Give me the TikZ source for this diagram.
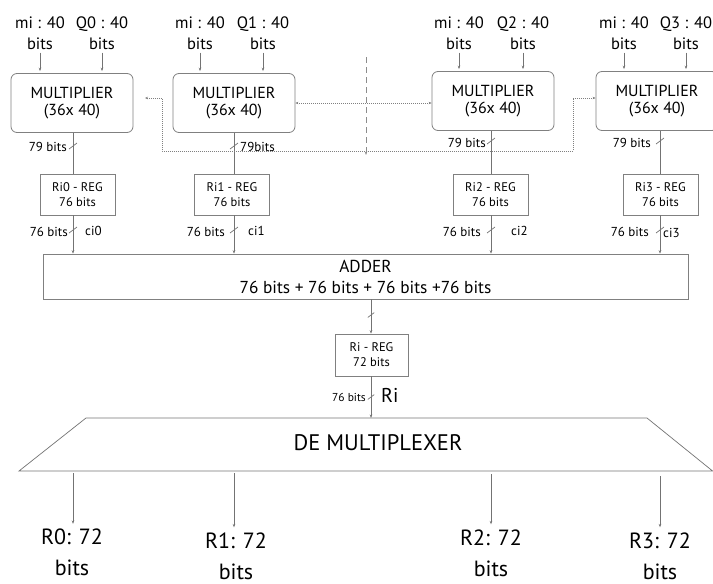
\documentclass[tikz,border=0pt]{standalone}
\usepackage{fontspec}
\setmainfont{PT Sans}
\usetikzlibrary{arrows.meta,calc}
\begin{document}
\begin{tikzpicture}[x=1pt,y=-1pt,
 line/.style={draw=black!55, line width=0.7pt},
 arr/.style={line, -{Stealth[length=3.5pt,width=2.6pt]}},
 mul/.style={draw=black!50, line width=0.8pt, rounded corners=6pt, minimum width=122pt, minimum height=59pt, align=center, font=\fontsize{16}{17}\selectfont, inner sep=0pt},
 reg/.style={draw=black!50, line width=0.8pt, minimum width=75pt, minimum height=41pt, align=center, font=\fontsize{12.5}{15}\selectfont, inner sep=0pt},
 inlab/.style={align=center, font=\fontsize{16.5}{21}\selectfont, inner sep=0pt},
 small/.style={font=\fontsize{13}{15}\selectfont, inner sep=0pt},
 outlab/.style={align=center, font=\fontsize{22}{31}\selectfont, inner sep=0pt},
 dots/.style={draw=black!50, line width=0.7pt, dash pattern=on 0.8pt off 1.2pt},
 sl/.pic={\draw[line] (-4,3) -- (4,-3);},
]
\clip (0,0) rectangle (713,584);
% column x positions
\coordinate (c0) at (73,0);
\coordinate (c1) at (234,0);
\coordinate (c2) at (491,0);
\coordinate (c3) at (660,0);
\coordinate (cr) at (371,0);
% multipliers
\node[mul] (m0) at (72,103) {MULTIPLIER\\(36x 40)};
\node[mul] (m1) at (234,103) {MULTIPLIER\\(36x 40)};
\node[mul] (m2) at (493,101) {MULTIPLIER\\(36x 40)};
\node[mul] (m3) at (657,101) {MULTIPLIER\\(36x 40)};
% input labels
\node[inlab] (a0) at (40,33) {mi : 40\\bits};
\node[inlab] (b0) at (102,33) {Q0 : 40\\bits};
\node[inlab] (a1) at (200,33) {mi : 40\\bits};
\node[inlab] (b1) at (263,33) {Q1 : 40\\bits};
\node[inlab] (a2) at (459,33) {mi : 40\\bits};
\node[inlab] (b2) at (523,33) {Q2 : 40\\bits};
\node[inlab] (a3) at (624,33) {mi : 40\\bits};
\node[inlab] (b3) at (686,33) {Q3 : 40\\bits};
\foreach \l/\m in {a0/m0,b0/m0,a1/m1,b1/m1,a2/m2,b2/m2,a3/m3,b3/m3}
  \draw[arr, shorten <=3pt, shorten >=2pt] (\l.south) -- (\l.south |- \m.north);
% registers
\node[reg] (r0) at (77.5,194.5) {Ri0 - REG\\76 bits};
\node[reg] (r1) at (232,194.5) {Ri1 - REG\\76 bits};
\node[reg] (r2) at (490.5,194.5) {Ri2 - REG\\76 bits};
\node[reg] (r3) at (660.5,194.5) {Ri3 - REG\\76 bits};
% adder
\node[draw=black!50, line width=0.8pt, minimum width=645pt, minimum height=45pt, inner sep=0pt, align=center, font=\fontsize{17.3}{21}\selectfont] (ad) at (365.5,276.5) {ADDER\\76 bits + 76 bits + 76 bits +76 bits};
% multiplier -> register
\draw[line] (m0.south -| c0) -- (r0.north -| c0);
\draw[line] (m1.south -| c1) -- (r1.north -| c1);
\draw[line] (m2.south -| c2) -- (r2.north -| c2);
\draw[line] (m3.south -| c3) -- (r3.north -| c3);
\pic at (73,146) {sl};
\pic at (234,146) {sl};
\pic at (491,141) {sl};
\pic at (660,141) {sl};
\node[small, anchor=east] at (67,147) {79 bits};
\node[small, anchor=west] at (240,147) {79bits};
\node[small, anchor=east] at (486,143) {79 bits};
\node[small, anchor=east] at (651,143) {79 bits};
% register -> adder
\draw[arr] (r0.south -| c0) -- (ad.north -| c0);
\draw[arr] (r1.south -| c1) -- (ad.north -| c1);
\draw[arr] (r2.south -| c2) -- (ad.north -| c2);
\draw[arr] (r3.south -| c3) -- (ad.north -| c3);
\pic at (73,230) {sl};
\pic at (234,230) {sl};
\pic at (491,230) {sl};
\pic at (660,230) {sl};
\node[small, anchor=east] at (68,232) {76 bits};
\node[small, anchor=west] at (85,231) {ci0};
\node[small, anchor=east] at (225,232) {76 bits};
\node[small, anchor=west] at (248,231) {ci1};
\node[small, anchor=east] at (481,232) {76 bits};
\node[small, anchor=west] at (511,231) {ci2};
\node[small, anchor=east] at (649,232) {76 bits};
\node[small, anchor=west] at (663,233) {ci3};
% Ri register
\node[reg, minimum width=73pt, minimum height=42pt] (rr) at (371.5,355) {Ri - REG\\72 bits};
\draw[arr] (ad.south -| cr) -- (rr.north -| cr);
\pic[scale=0.8] at (371,315) {sl};
% demultiplexer
\coordinate (dtl) at (86,418);
\coordinate (dtr) at (647,418);
\coordinate (dbr) at (712.6,471);
\coordinate (dbl) at (19,471);
\draw[line] (dtl) -- (dtr) -- (dbr) -- (dbl) -- cycle;
\node[font=\fontsize{22.5}{25}\selectfont, inner sep=0pt] (dmt) at (378,443) {DE MULTIPLEXER};
\draw[arr] (rr.south -| cr) -- (dtl -| cr);
\pic[scale=0.8] at (371,397) {sl};
\node[font=\fontsize{11.5}{13}\selectfont, inner sep=0pt, anchor=east] at (366,397) {76 bits};
\node[font=\fontsize{20}{22}\selectfont, inner sep=0pt, anchor=west] at (381,395) {Ri};
% outputs
\node[outlab] (o0) at (72,552.5) {R0: 72\\bits};
\node[outlab] (o1) at (236,556) {R1: 72\\bits};
\node[outlab] (o2) at (491,553) {R2: 72\\bits};
\node[outlab] (o3) at (660,556) {R3: 72\\bits};
\draw[arr, shorten <=2pt, shorten >=5pt] (dbl -| c0) -- (o0.north -| c0);
\draw[arr, shorten <=2pt, shorten >=5pt] (dbl -| c1) -- (o1.north -| c1);
\draw[arr, shorten <=3pt, shorten >=5pt] (dbl -| c2) -- (o2.north -| c2);
\draw[arr, shorten <=5pt, shorten >=5pt] (dbl -| c3) -- (o3.north -| c3);
% dotted links
\draw[dots, {Stealth[length=3pt,width=2.5pt]}-{Stealth[length=3pt,width=2.5pt]}] (m1.east |- 0,103) -- (m2.west |- 0,103);
\coordinate (p0) at (145,98);
\draw[dots, {Stealth[length=3pt,width=2.5pt]}-{Stealth[length=3pt,width=2.5pt]}] (p0) -- (162,98) -- (162,151) -- (573,151) -- (573,98) -- (m3.west |- 0,98);
% dashed divider
\coordinate (dv1) at (366,57);
\coordinate (dv2) at (366,155);
\draw[arr, draw=black!45, dash pattern=on 6pt off 4pt] (dv1) -- (dv2);
\end{tikzpicture}
\end{document}
